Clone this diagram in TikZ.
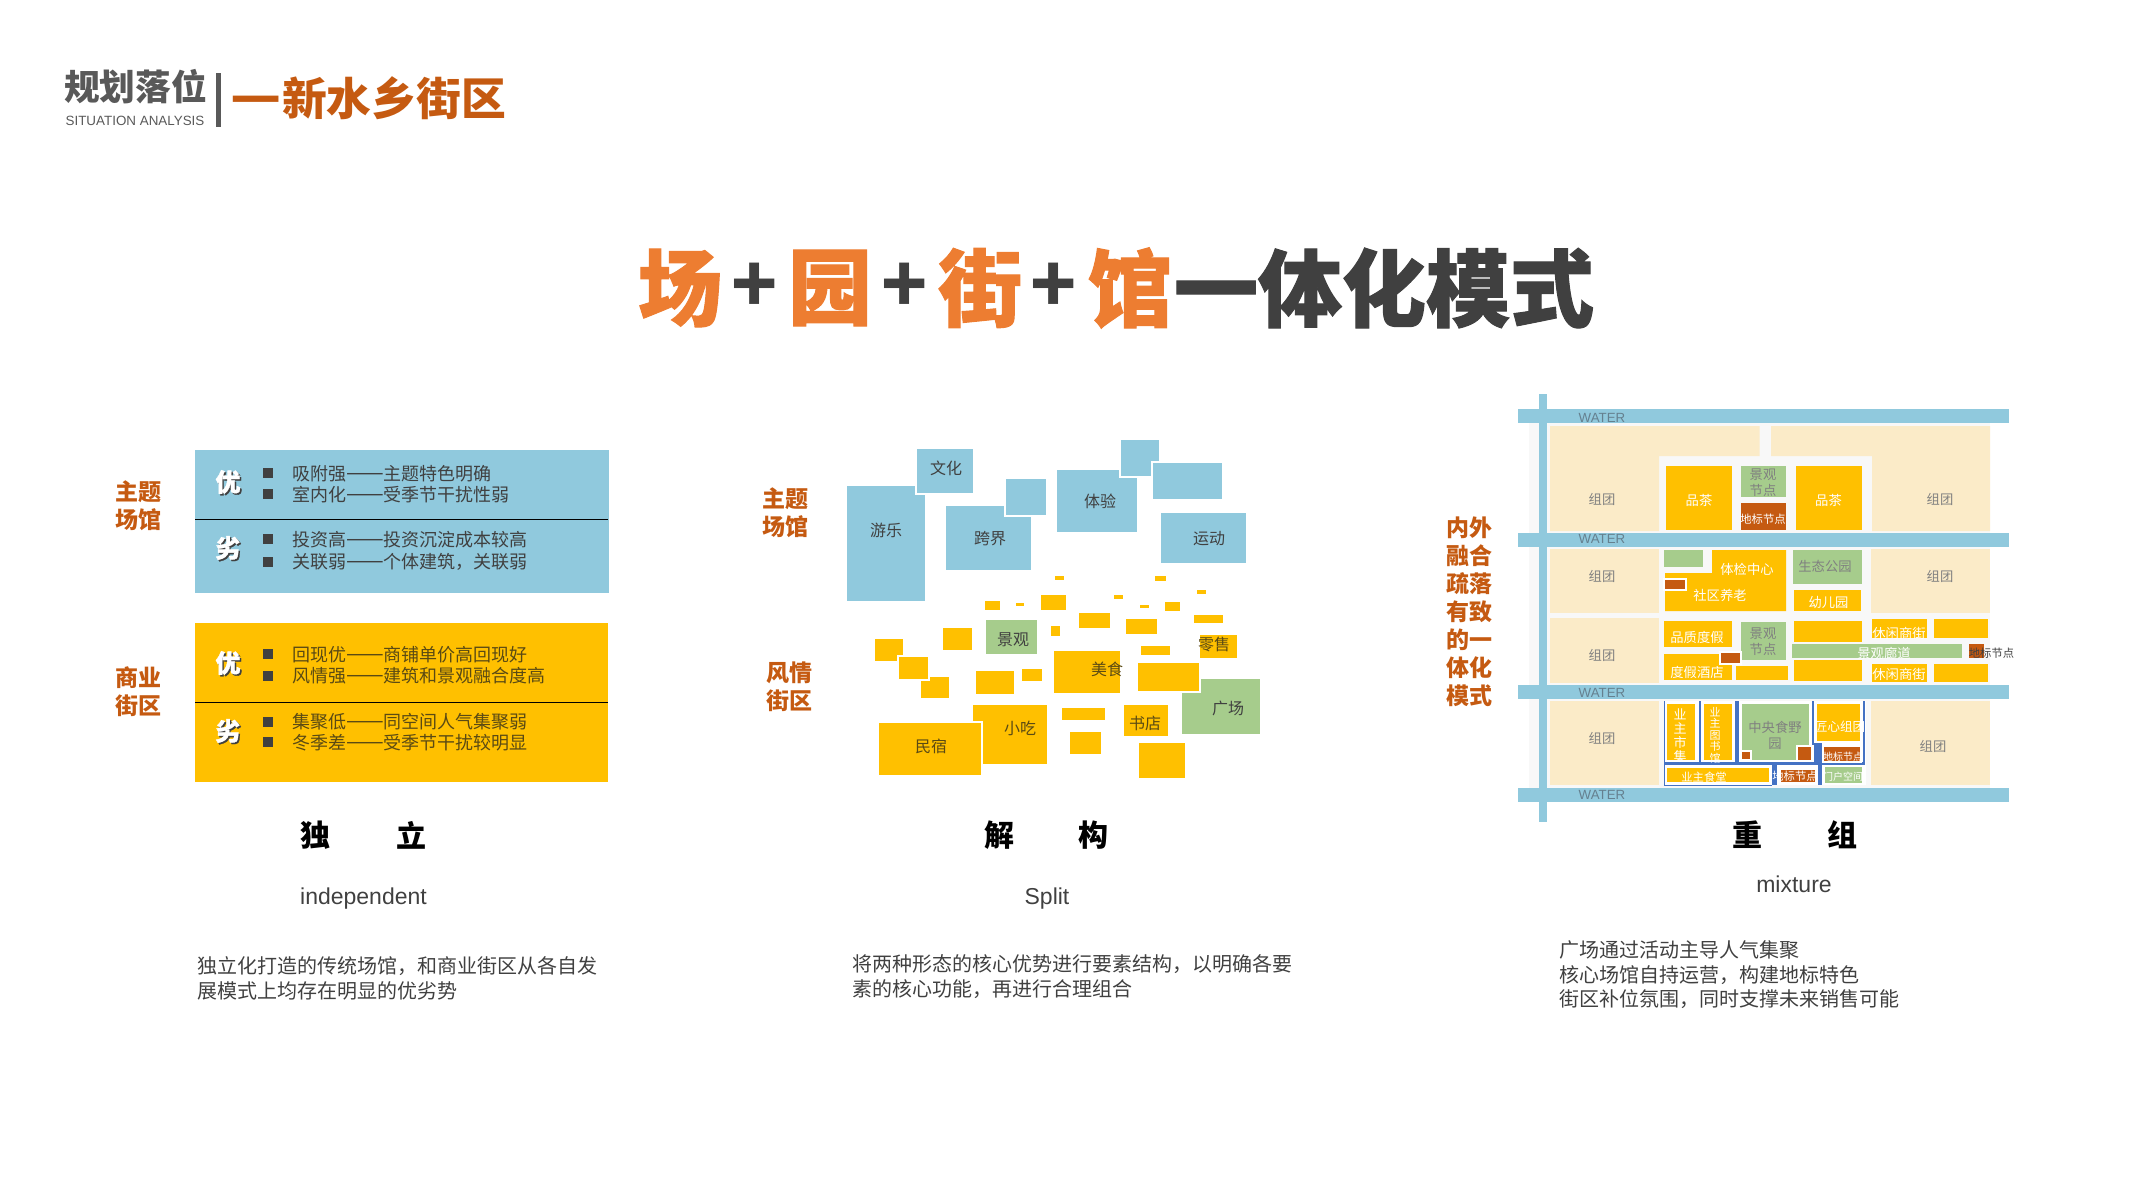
\documentclass[tikz,border=0pt]{standalone}
\usepackage{fontspec}
\setmainfont{Liberation Sans}
\newfontfamily\cjk{Noto Sans CJK SC}
\newfontfamily\cjkheavy[BoldFeatures={FakeBold=1.2}]{Noto Sans CJK SC}
\usetikzlibrary{positioning}
\usetikzlibrary{calc}

\definecolor{rust}{HTML}{C55A11}
\definecolor{titleorange}{HTML}{ED7D31}
\definecolor{ink}{HTML}{404040}
\definecolor{inkyellow}{HTML}{5A4A14}
\definecolor{headgrey}{HTML}{595959}
\definecolor{stageblue}{HTML}{90C9DD}
\definecolor{shopyellow}{HTML}{FFC000}
\definecolor{parkgreen}{HTML}{A6CC8C}
\definecolor{creamland}{HTML}{FBEBC8}
\definecolor{roadgrey}{HTML}{F8F8F8}
\definecolor{lineblue}{HTML}{4472C4}
\definecolor{watertext}{HTML}{65808F}

\newcommand{\pxfont}[2]{\fontsize{#1}{#2}\selectfont}
\newcommand{\longdash}{{\pxfont{22.5}{22}——}}

\tikzset{
	txt/.style={inner sep=0pt, outer sep=0pt, align=center},
	sidelabel/.style={txt, text=rust, font=\cjk\bfseries\pxfont{23}{28}},
	bigword/.style={txt, text=black, font=\cjk\bfseries\pxfont{30}{36}},
	engword/.style={txt, text=ink, anchor=base, font=\pxfont{23}{28}},
	descr/.style={txt, anchor=west, align=left, text=ink, font=\cjk\pxfont{20}{24.5}},
	rowtext/.style={txt, anchor=west, text=#1, font=\cjk\pxfont{18}{22}},
	advword/.style={txt, text=#1, font=\cjkheavy\bfseries\pxfont{25}{30}},
	bluebox/.style={fill=stageblue, draw=white, line width=1.2pt},
	yellowbox/.style={fill=shopyellow, draw=white, line width=1.2pt},
	greenbox/.style={fill=parkgreen, draw=white, line width=1.2pt},
	rustbox/.style={fill=rust, draw=white, line width=1.2pt},
	blocktext/.style={txt, text=#1, font=\cjk\pxfont{16}{19}},
	maptext/.style={txt, text=#1, font=\cjk\pxfont{13.3}{16}},
	tagtext/.style={txt, text=#1, font=\cjk\pxfont{11.3}{14}},
	smalltag/.style={txt, text=#1, font=\cjk\pxfont{10}{12}},
	watertxt/.style={txt, text=watertext, font=\pxfont{13.3}{16}},
	titlechar/.style={txt, text=#1, font=\cjkheavy\bfseries\pxfont{84}{90}}
}

\begin{document}
\begin{tikzpicture}[x=1pt,y=-1pt]
	\useasboundingbox (0,0) rectangle (2133,1200);

	% header
	\node[txt, text=headgrey, font=\cjk\bfseries\pxfont{35.7}{40}] (headcn) at (135.5,87) {规划落位};
	\node[txt, text=headgrey, font=\pxfont{13.4}{16}] (headen) at (135,121) {SITUATION ANALYSIS};
	\fill[headgrey] (216,73) rectangle (221,127);
	\node[txt, text=rust, font=\cjk\bfseries\pxfont{44.8}{50}] (headsub) at (368.5,98) {{\pxfont{56}{50}—}新水乡街区};

	% title
	\foreach \ch/\xc in {场/680,园/830,街/980,馆/1130}
		{\node[titlechar=titleorange] (title\xc) at (\xc,288) {\ch};}
	\foreach \xc in {755,905,1054}
		{\node[txt, text=ink, font=\cjk\bfseries\pxfont{76}{80}] (plus\xc) at (\xc,288) {+};}
	\node[titlechar=ink] (titlerest) at (1384,288) {一体化模式};

	% left panel
	\fill[stageblue] (195,450) rectangle (609,593);
	\fill[shopyellow] (195,623) rectangle (608,782);
	\draw[black, line width=1pt] (195,519) -- (608,519);
	\draw[black, line width=1pt] (195,702) -- (608,702);
	\node[sidelabel] (stageleft) at (138,506) {主题\\场馆};
	\node[sidelabel] (shopleft) at (138,692) {商业\\街区};
	\foreach \ch/\yc [count=\n] in {优/482,劣/548,优/663,劣/731}
		{\node[advword=ink] (advback\n) at (229.5,\yc+1.5) {\ch};
		 \node[advword=white] (adv\n) at (228,\yc) {\ch};}
	\foreach \yc in {473,494,539,562,654,676,722,742}
		{\fill[ink] (263,\yc-5) rectangle (273,\yc+5);}
	\foreach \yc/\head/\words in {474/吸附强/主题特色明确,495/室内化/受季节干扰性弱,540/投资高/投资沉淀成本较高,562/关联弱/个体建筑，关联弱}
		{\node[rowtext=ink] (row\yc) at (292,\yc) {\head\longdash\words};}
	\foreach \yc/\head/\words in {655/回现优/商铺单价高回现好,676/风情强/建筑和景观融合度高,722/集聚低/同空间人气集聚弱,743/冬季差/受季节干扰较明显}
		{\node[rowtext=inkyellow] (row\yc) at (292,\yc) {\head\longdash\words};}

	% middle panel
	\node[sidelabel] (stagemid) at (785,513) {主题\\场馆};
	\node[sidelabel] (shopmid) at (789,687) {风情\\街区};
	\foreach \xa/\ya/\xb/\yb in {846/485/926/602,916/448/974/494,945/505/1032/571,1005/478/1047/516,1056/469/1138/533,1120/439/1160/477,1152/462/1223/500,1160/512/1247/564}
		{\draw[bluebox] (\xa,\ya) rectangle (\xb,\yb);}
	\draw[greenbox] (1181.5,678) rectangle (1261,735);
	\foreach \xa/\ya/\xb/\yb in {1054/575/1065/581,1154/575/1167/582,1196/589/1207/595,1113/594/1124/600,984/600/1001/611,1015/602/1025/607,1040/594/1067/611,1139/604/1150/609,1164/601/1181/612,1078/612/1110.5/629,1125/618/1158/635,1193/614/1223.5/624,1050/625/1061/637,942.5/627/973/651,874/638/904/662,920/676/950/699,898/656/929/680,1199/634/1238/659,1140/645/1171/656,1053/650/1121/694,975/670/1014.5/695,1021/668/1043/682,1137/662/1200/692,972/704/1048/765,878/722/982/776,1061/707/1106/721,1069/731/1102/755,1123/704/1169/737,1138/742/1186/779}
		{\draw[yellowbox] (\xa,\ya) rectangle (\xb,\yb);}
	\draw[greenbox] (985,619) rectangle (1038,655);
	\foreach \nm/\xc/\yc/\words in {youle/886/530/游乐,wenhua/946/468/文化,kuajie/990/539/跨界,tiyan/1100/501/体验,yundong/1209/539/运动}
		{\node[blocktext=ink] (\nm) at (\xc,\yc) {\words};}
	\foreach \nm/\xc/\yc/\words in {lingshou/1214/644/零售,meishi/1107/669/美食,xiaochi/1020/728/小吃,minsu/931/746/民宿,shudian/1145/723/书店}
		{\node[blocktext=inkyellow] (\nm) at (\xc,\yc) {\words};}
	\node[blocktext=ink] (jingguan) at (1013,640) {景观};
	\node[blocktext=ink] (guangchang) at (1228,708) {广场};

	% right panel: ground, water, land
	\node[sidelabel] (mixlabel) at (1469,612) {内外\\融合\\疏落\\有致\\的一\\体化\\模式};
	\fill[roadgrey] (1529,423) rectangle (1990,788);
	\fill[creamland] (1550,426) -- (1759.5,426) -- (1759.5,456) -- (1659,456) -- (1659,531) -- (1550,531) -- cycle;
	\fill[creamland] (1771,426) -- (1990,426) -- (1990,531) -- (1872,531) -- (1872,456) -- (1771,456) -- cycle;
	\foreach \xa/\ya/\xb/\yb in {1550/549/1659/613,1871/549/1990/613,1550/618/1659/683,1550/701/1659/785,1871/701/1990/785}
		{\fill[creamland] (\xa,\ya) rectangle (\xb,\yb);}
	\foreach \ya/\yb in {409/423,533/547,685/699,788/802}
		{\fill[stageblue] (1517.5,\ya) rectangle (2009,\yb);}
	\fill[stageblue] (1539,394) rectangle (1547,822);
	\foreach \yc in {418,539,693,795}
		{\node[watertxt] (water\yc) at (1602,\yc) {WATER};}
	\foreach \xc/\yc [count=\n] in {1602/499,1940/499,1602/576,1940/576,1602/655,1602/738,1933/746}
		{\node[maptext=gray] (zutuan\n) at (\xc,\yc) {组团};}

	% right panel: upper rows
	\foreach \xa/\ya/\xb/\yb in {1666/466/1732/530,1796/466/1862/530,1794/590/1861/611,1664/621/1732/647,1664/654/1732/680,1736/666/1788/680,1794/621/1862/642,1794/660/1862/681,1872/619/1927/638,1934/619/1988/638,1872/664/1927/682,1934/664/1988/682}
		{\fill[shopyellow] (\xa,\ya) rectangle (\xb,\yb);}
	\fill[shopyellow] (1712,550) -- (1786,550) -- (1786,611) -- (1665,611) -- (1665,573) -- (1712,573) -- cycle;
	\foreach \xa/\ya/\xb/\yb in {1741/466/1786/497,1664/550/1703/567,1793/550/1862/584,1741/622/1786/660,1792/644/1962/658}
		{\fill[parkgreen] (\xa,\ya) rectangle (\xb,\yb);}
	\fill[rust] (1741,503) rectangle (1786,530);
	\fill[rust] (1969,644) rectangle (1984,658);
	\draw[rustbox] (1664,579) rectangle (1686,590);
	\draw[rustbox] (1720,652) rectangle (1741,664);
	\foreach \nm/\xc/\yc/\words in {pincha1/1699/500/品茶,pincha2/1828.5/500/品茶,tijian/1747/569/体检中心,shequ/1720/595/社区养老,youer/1828.5/602/幼儿园,pinzhi/1697/637/品质度假,dujia/1697/672/度假酒店,langdao/1884/653/景观廊道,xiuxian1/1899/633/休闲商街,xiuxian2/1899/674/休闲商街}
		{\node[maptext=white] (\nm) at (\xc,\yc) {\words};}
	\foreach \nm/\xc/\yc/\words in {node1/1763/483/景观\\节点,node2/1763/642/景观\\节点,shengtai/1825/566/生态公园}
		{\node[maptext=gray] (\nm) at (\xc,\yc) {\words};}
	\node[tagtext=white] (mark1) at (1763,519) {地标节点};
	\node[tagtext=ink] (mark2) at (1991.5,653) {地标节点};

	% right panel: lower row
	\fill[white] (1664,701) rectangle (1866,785);
	\foreach \xa/\ya/\xb/\yb in {1663.5/701/1665/785,1699/701/1701/762,1735/701/1739/762,1812/701/1814/745,1863/701/1865/765,1664/762/1865/765,1814/743/1822/765,1772/765/1777/785,1818/765/1822/785,1664/784.5/1772/785}
		{\fill[lineblue] (\xa,\ya) rectangle (\xb,\yb);}
	\foreach \xa/\ya/\xb/\yb in {1666/703/1696/761,1703/703/1733/761,1816/703/1861/742,1666/767/1770/783}
		{\draw[yellowbox] (\xa,\ya) rectangle (\xb,\yb);}
	\draw[greenbox] (1741,703) rectangle (1810,761);
	\draw[greenbox] (1824,766) rectangle (1863,784);
	\foreach \xa/\ya/\xb/\yb in {1741/751/1751/760,1797/746/1812/761,1823/746/1861/762,1780/769/1816/783}
		{\draw[rustbox] (\xa,\ya) rectangle (\xb,\yb);}
	\node[txt, text=white, font=\cjk\pxfont{13}{14}] (shiji) at (1680,735.5) {业\\主\\市\\集};
	\node[txt, text=white, font=\cjk\pxfont{11}{11.5}] (tushu) at (1715,735) {业\\主\\图\\书\\馆};
	\node[maptext=gray] (shiye) at (1775,735) {中央食野\\园};
	\node[txt, text=white, font=\cjk\pxfont{12.5}{15}] (jiangxin) at (1840,727) {匠心组团};
	\node[smalltag=white] (mark3) at (1843,757) {地标节点};
	\node[tagtext=white] (shitang) at (1704,777) {业主食堂};
	\node[tagtext=white] (mark4) at (1795,776) {地标节点};
	\node[smalltag=white] (menhu) at (1843,777) {门户空间};

	% captions
	\foreach \xc/\ch in {315.5/独,411/立,999.5/解,1093/构,1747/重,1842/组}
		{\node[bigword] (big\ch) at (\xc,835) {\ch};}
	\node[engword] (enleft) at (363.5,904) {independent};
	\node[engword] (enmid) at (1047,904) {Split};
	\node[engword] (enright) at (1794,892) {mixture};
	\node[descr] (descleft) at (197,978.5) {独立化打造的传统场馆，和商业街区从各自发\\展模式上均存在明显的优劣势};
	\node[descr] (descmid) at (852,976.5) {将两种形态的核心优势进行要素结构，以明确各要\\素的核心功能，再进行合理组合};
	\node[descr] (descright) at (1559,975) {广场通过活动主导人气集聚\\核心场馆自持运营，构建地标特色\\街区补位氛围，同时支撑未来销售可能};
\end{tikzpicture}
\end{document}
